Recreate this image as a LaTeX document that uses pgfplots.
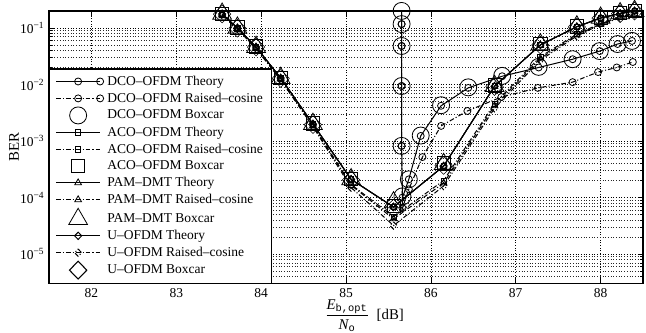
\documentclass[border=0pt]{standalone}
\usepackage{amsmath}
\usepackage{fontspec}
\setmainfont{Liberation Serif}
\setmonofont{Liberation Mono}
\usepackage{pgfplots}
\pgfplotsset{compat=1.18}
\pgfplotsset{
  theory/.style={black, solid, line width=0.75pt, mark options={solid, line width=0.6pt}},
  rc/.style={black, line width=0.75pt, dash pattern=on 3.5pt off 1.5pt on 0.8pt off 1.5pt, mark options={solid, line width=0.6pt}},
  box/.style={black, only marks, mark options={solid, line width=0.6pt}},
}
\begin{document}
\begin{tikzpicture}
\begin{axis}[
  name=ax,
  scale only axis, width=440pt, height=202pt,
  xmin=81.5, xmax=88.5, ymode=log, ymin=3e-6, ymax=0.2,
  xtick={82,83,84,85,86,87,88}, xticklabels={82,83,84,85,86,87,88},
  ytick={1e-5,1e-4,1e-3,1e-2,1e-1},
  yticklabels={10\textsuperscript{−5},10\textsuperscript{−4},10\textsuperscript{−3},10\textsuperscript{−2},10\textsuperscript{−1}},
  minor ytick={3e-6,4e-6,5e-6,6e-6,7e-6,8e-6,9e-6,2e-5,3e-5,4e-5,5e-5,6e-5,7e-5,8e-5,9e-5,2e-4,3e-4,4e-4,5e-4,6e-4,7e-4,8e-4,9e-4,2e-3,3e-3,4e-3,5e-3,6e-3,7e-3,8e-3,9e-3,2e-2,3e-2,4e-2,5e-2,6e-2,7e-2,8e-2,9e-2,2e-1},
  xmajorgrids, ymajorgrids, yminorgrids,
  major grid style={black, line width=0.4pt, dash pattern=on 0.6pt off 1.4pt},
  minor grid style={black!85, line width=0.4pt, dash pattern=on 0.6pt off 1.4pt},
  axis line style={line width=0.9pt},
  tick style={black, line width=0.5pt},
  major tick length=4pt, minor tick length=2.2pt,
  tick align=inside,
  ticklabel style={font=\fontsize{10}{12}\selectfont},
  xlabel={$\displaystyle\frac{\textit{E}_{\texttt{b,opt}}}{\textit{N}_{\texttt{o}}}$\ \ [dB]},
  xlabel style={at={(axis description cs:0.531,-0.117)}, anchor=center, font=\fontsize{11}{13}\selectfont},
  ylabel={BER},
  ylabel style={at={(axis description cs:-0.059,0.5)}, anchor=center, font=\fontsize{11}{13}\selectfont},
  legend cell align=left,
  legend style={at={(0,0)}, anchor=south west, draw=black, line width=0.8pt, fill=white,
    font=\fontsize{10}{12}\selectfont, inner xsep=4.5pt, inner ysep=3pt, row sep=0.1pt},
  legend image code/.code={\draw[mark repeat=2,mark phase=2,#1] plot coordinates {(0pt,0pt) (16.3pt,0pt) (32.6pt,0pt)}; \path (35.5pt,0pt);},
]
% DCO-OFDM
\addplot[theory, mark=o, mark size=2.6pt, mark indices={2,3,4,5,6,7,8,9,10,11,12,13,14,15,16,17}] coordinates {
(85.655,0.4)(85.655,0.200)(85.655,0.117)(85.655,0.048)(85.655,9.4e-3)(85.655,8.2e-4)(85.665,1.0e-4)(85.74,2.1e-4)(85.88,1.23e-3)(86.12,4.2e-3)(86.44,8.7e-3)(86.84,1.4e-2)(87.27,0.020)(87.67,0.028)(87.99,0.039)(88.20,0.052)(88.37,0.059)};
\addlegendentry{DCO--OFDM Theory}
\addplot[rc, mark=o, mark size=2.6pt, mark indices={2,3,4,5,6,7,8,9,10,11,12,13,14,15,16,17}] coordinates {
(85.655,0.4)(85.655,0.200)(85.655,0.117)(85.655,0.048)(85.655,9.4e-3)(85.655,8.2e-4)(85.665,6.5e-5)(85.74,1.4e-4)(85.90,5.2e-4)(86.12,1.85e-3)(86.43,3.4e-3)(86.83,6.0e-3)(87.26,8.7e-3)(87.67,0.011)(87.97,0.0166)(88.19,0.020)(88.38,0.025)};
\addlegendentry{DCO--OFDM Raised--cosine}
\addplot[box, mark=o, mark size=6.3pt] coordinates {
(85.655,0.200)(85.655,0.117)(85.655,0.048)(85.655,9.4e-3)(85.655,8.2e-4)(85.665,1.05e-4)(85.74,2.1e-4)(85.88,1.25e-3)(86.12,4.3e-3)(86.44,8.9e-3)(86.84,1.42e-2)(87.27,0.0205)(87.67,0.028)(87.99,0.039)(88.20,0.052)(88.37,0.059)};
\addlegendentry{DCO--OFDM Boxcar}
% ACO-OFDM
\addplot[theory, mark=square, mark size=1.9pt] coordinates {
(83.54,0.177)(83.72,0.100)(83.94,0.046)(84.23,0.013)(84.61,2.0e-3)(85.06,2.1e-4)(85.56,6.8e-5)(86.15,3.6e-4)(86.75,9.3e-3)(87.29,0.050)(87.72,0.105)(88.00,0.150)(88.23,0.180)(88.40,0.200)};
\addlegendentry{ACO--OFDM Theory}
\addplot[rc, mark=square, mark size=1.9pt] coordinates {
(83.54,0.170)(83.72,0.097)(83.94,0.044)(84.23,0.0125)(84.61,1.9e-3)(85.06,1.7e-4)(85.56,4.6e-5)(86.15,2.0e-4)(86.75,4.6e-3)(87.29,0.031)(87.72,0.078)(88.00,0.120)(88.23,0.160)(88.40,0.180)};
\addlegendentry{ACO--OFDM Raised--cosine}
\addplot[box, mark=square, mark size=4.9pt] coordinates {
(83.54,0.180)(83.72,0.102)(83.94,0.047)(84.23,0.0132)(84.61,2.05e-3)(85.06,2.15e-4)(85.56,7.2e-5)(86.15,4.0e-4)(86.75,9.6e-3)(87.29,0.052)(87.72,0.107)(88.00,0.152)(88.23,0.182)(88.40,0.198)};
\addlegendentry{ACO--OFDM Boxcar}
% PAM-DMT
\addplot[theory, mark=triangle, mark size=2.9pt] coordinates {
(83.54,0.177)(83.72,0.100)(83.94,0.046)(84.23,0.013)(84.61,2.0e-3)(85.06,2.1e-4)(85.56,6.8e-5)(86.15,3.6e-4)(86.75,9.3e-3)(87.29,0.050)(87.72,0.105)(88.00,0.150)(88.23,0.180)(88.40,0.200)};
\addlegendentry{PAM--DMT Theory}
\addplot[rc, mark=triangle, mark size=2.9pt] coordinates {
(83.54,0.170)(83.72,0.097)(83.94,0.044)(84.23,0.0125)(84.61,1.85e-3)(85.06,1.65e-4)(85.56,4.2e-5)(86.15,1.8e-4)(86.75,4.2e-3)(87.29,0.029)(87.72,0.075)(88.00,0.118)(88.23,0.155)(88.40,0.178)};
\addlegendentry{PAM--DMT Raised--cosine}
\addplot[box, mark=triangle, mark size=8pt] coordinates {
(83.54,0.178)(83.72,0.101)(83.94,0.046)(84.23,0.013)(84.61,2.0e-3)(85.06,2.1e-4)(85.56,8.2e-5)(86.15,3.9e-4)(86.75,9.4e-3)(87.29,0.051)(87.72,0.106)(88.00,0.151)(88.23,0.181)(88.40,0.199)};
\addlegendentry{PAM--DMT Boxcar}
% U-OFDM
\addplot[theory, mark=diamond, mark size=2.7pt, mark options={xscale=1.3}] coordinates {
(83.54,0.177)(83.72,0.100)(83.94,0.046)(84.23,0.013)(84.61,2.0e-3)(85.06,2.1e-4)(85.56,6.8e-5)(86.15,3.6e-4)(86.75,9.3e-3)(87.29,0.050)(87.72,0.105)(88.00,0.150)(88.23,0.180)(88.40,0.200)};
\addlegendentry{U--OFDM Theory}
\addplot[rc, mark=diamond, mark size=2.7pt, mark options={xscale=1.3}] coordinates {
(83.54,0.168)(83.72,0.096)(83.94,0.043)(84.23,0.012)(84.61,1.8e-3)(85.06,1.5e-4)(85.56,3.2e-5)(86.15,1.6e-4)(86.75,3.8e-3)(87.29,0.027)(87.72,0.072)(88.00,0.115)(88.23,0.150)(88.40,0.175)};
\addlegendentry{U--OFDM Raised--cosine}
\addplot[box, mark=diamond, mark size=6.6pt, mark options={xscale=1.3}] coordinates {
(83.54,0.176)(83.72,0.099)(83.94,0.046)(84.23,0.0128)(84.61,1.95e-3)(85.06,2.05e-4)(85.56,6.5e-5)(86.15,3.7e-4)(86.75,9.2e-3)(87.29,0.050)(87.72,0.104)(88.00,0.149)(88.23,0.179)(88.40,0.199)};
\addlegendentry{U--OFDM Boxcar}
\end{axis}
\pgfresetboundingbox
\path (ax.south west) +(-36.3pt,-36.3pt) (ax.north east) +(2.2pt,8.1pt);
\end{tikzpicture}
\end{document}
